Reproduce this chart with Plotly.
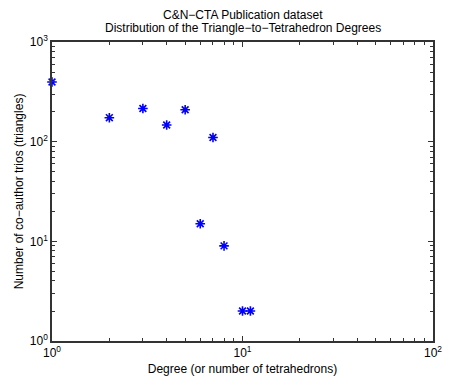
import plotly.graph_objects as go

degree = [1, 2, 3, 4, 5, 6, 7, 8, 10, 11]
trios = [397, 174, 215, 147, 209, 15, 110, 9, 2, 2]

x_tickvals = [1, 10, 100]
x_ticktext = ["10<sup>0</sup>", "10<sup>1</sup>", "10<sup>2</sup>"]
x_minor = [2, 3, 4, 5, 6, 7, 8, 9, 20, 30, 40, 50, 60, 70, 80, 90]
y_tickvals = [1, 10, 100, 1000]
y_ticktext = ["10<sup>0</sup>", "10<sup>1</sup>", "10<sup>2</sup>", "10<sup>3</sup>"]
y_minor = [2, 3, 4, 5, 6, 7, 8, 9, 20, 30, 40, 50, 60, 70, 80, 90,
           200, 300, 400, 500, 600, 700, 800, 900]
title_lines = ["C&N−CTA Publication dataset",
               "Distribution of the Triangle−to−Tetrahedron Degrees"]

font = "Liberation Sans, Arial, sans-serif"

fig = go.Figure()
fig.add_trace(go.Scatter(
    x=degree, y=trios, mode="markers", cliponaxis=False,
    marker=dict(symbol="asterisk-open", size=8, color="blue",
                line=dict(color="blue", width=1.6)),
))

for line, ypos in zip(title_lines, [1.0897, 1.0465]):
    fig.add_annotation(text=line, xref="paper", yref="paper", x=0.5, y=ypos,
                       xanchor="center", yanchor="middle", showarrow=False,
                       font=dict(family=font, size=12, color="black"))

axis_common = dict(
    type="log", showgrid=False, zeroline=False, showline=True,
    linecolor="#333", linewidth=1.5, mirror="ticks", ticks="inside",
    ticklen=5, tickcolor="#333", tickwidth=1,
    tickfont=dict(family=font, size=12, color="black"),
)

fig.update_layout(
    width=451, height=383,
    margin=dict(l=52, r=9, t=42, b=40),
    paper_bgcolor="white", plot_bgcolor="white",
    showlegend=False,
    font=dict(family=font, size=12, color="black"),
    xaxis=dict(axis_common, range=[0, 2], tickvals=x_tickvals, ticktext=x_ticktext,
               minor=dict(tickvals=x_minor, ticks="inside", ticklen=3,
                          tickcolor="#333", showgrid=False),
               title=dict(text="Degree (or number of tetrahedrons)", standoff=5,
                          font=dict(family=font, size=12))),
    yaxis=dict(axis_common, range=[0, 3], tickvals=y_tickvals, ticktext=y_ticktext,
               minor=dict(tickvals=y_minor, ticks="inside", ticklen=3,
                          tickcolor="#333", showgrid=False),
               title=dict(text="Number of co−author trios (triangles)", standoff=4,
                          font=dict(family=font, size=12))),
)

fig.write_html("out.html")
